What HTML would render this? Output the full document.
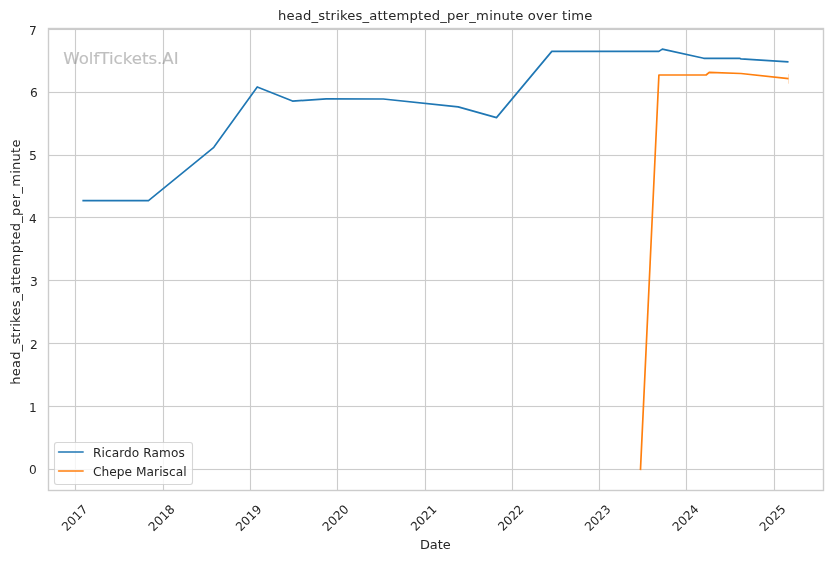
<!DOCTYPE html>
<html lang="en">
<head>
<meta charset="utf-8">
<title>head_strikes_attempted_per_minute over time</title>
<style>
html,body{margin:0;padding:0;background:#ffffff;}
body{width:832px;height:561px;overflow:hidden;}
svg{display:block;will-change:transform;}
text{font-family:'DejaVu Sans', 'Liberation Sans', sans-serif;fill:#262626;}
</style>
</head>
<body>
<svg width="832" height="561" viewBox="0 0 832 561">
<rect x="0" y="0" width="832" height="561" fill="#ffffff"/>
<g opacity="0.999">
<g stroke="#cccccc" stroke-width="1.111" fill="none">
<line x1="75.5" y1="28.5" x2="75.5" y2="490.5"/>
<line x1="163.5" y1="28.5" x2="163.5" y2="490.5"/>
<line x1="250.5" y1="28.5" x2="250.5" y2="490.5"/>
<line x1="337.5" y1="28.5" x2="337.5" y2="490.5"/>
<line x1="425.5" y1="28.5" x2="425.5" y2="490.5"/>
<line x1="512.5" y1="28.5" x2="512.5" y2="490.5"/>
<line x1="599.5" y1="28.5" x2="599.5" y2="490.5"/>
<line x1="686.5" y1="28.5" x2="686.5" y2="490.5"/>
<line x1="774.5" y1="28.5" x2="774.5" y2="490.5"/>
</g>
<g fill="#cccccc" stroke="none">
<rect x="48.5" y="468.9445" width="775.0" height="1.111"/>
<rect x="48.5" y="405.9445" width="775.0" height="1.111"/>
<rect x="48.5" y="342.9445" width="775.0" height="1.111"/>
<rect x="48.5" y="279.9445" width="775.0" height="1.111"/>
<rect x="48.5" y="216.9445" width="775.0" height="1.111"/>
<rect x="48.5" y="154.9445" width="775.0" height="1.111"/>
<rect x="48.5" y="91.9445" width="775.0" height="1.111"/>
<rect x="48.5" y="28.9445" width="775.0" height="1.111"/>
</g>
<g fill="none" stroke-width="1.667" stroke-linejoin="round" stroke-linecap="square">
<polyline stroke="#1f77b4" points="83.20,200.60 148.50,200.60 213.80,147.30 257.25,86.90 292.50,101.10 326.25,98.90 383.30,99.00 458.20,106.90 496.50,117.60 551.80,51.40 658.90,51.40 662.30,49.10 703.75,58.30 739.40,58.30 741.00,58.90 787.70,61.80"/>
<polyline stroke="#ff7f0e" points="640.50,469.33 658.90,75.00 706.10,75.00 709.20,72.30 741.00,73.50 787.70,78.60"/>
</g>
<line x1="788.5" y1="74.1" x2="788.5" y2="83.7" stroke="#ff7f0e" stroke-opacity="0.25" stroke-width="1"/>
<rect x="48.5" y="28.5" width="775.0" height="462.0" fill="none" stroke="#cccccc" stroke-width="1.389"/>
<text x="63.20" y="63.60" style="font-size:16.617px;fill:#808080;stroke:#808080;stroke-width:0.16;opacity:0.5">WolfTickets.AI</text>
<rect x="54.5" y="442.5" width="138" height="42" rx="2.4" ry="2.4" fill="#ffffff" fill-opacity="0.8" stroke="#cccccc" stroke-opacity="0.8" stroke-width="1.111"/>
<line x1="58.6" y1="452.0" x2="83.1" y2="452.0" stroke="#1f77b4" stroke-width="1.667" stroke-linecap="round"/>
<line x1="58.6" y1="471.0" x2="83.1" y2="471.0" stroke="#ff7f0e" stroke-width="1.667" stroke-linecap="round"/>
<text style="font-size:12.122px;fill:#262626" x="93.05 101.55 104.92 111.67 119.17 124.05 131.80 139.30 143.18 151.43 158.93 170.93 178.43" y="457.30">Ricardo Ramos</text>
<text style="font-size:12.222px;fill:#262626" x="93.10 101.60 109.35 116.85 124.60 132.10 135.97 146.60 154.10 159.22 162.60 169.10 175.85 183.35" y="476.30">Chepe Mariscal</text>
<text style="font-size:13.150px;fill:#262626" x="278.10 286.60 294.85 303.10 311.60 318.35 325.23 330.60 336.23 339.98 347.35 355.60 362.48 369.23 377.48 382.85 388.23 396.48 409.60 418.10 423.48 431.73 440.23 446.98 455.48 463.73 469.35 476.10 489.23 492.98 501.48 509.98 515.35 523.60 527.85 536.10 543.98 552.23 557.85 562.10 567.48 571.23 584.35" y="20.00">head_strikes_attempted_per_minute over time</text>
<text style="font-size:12.950px;fill:#262626" x="435.35" y="549.00" text-anchor="middle">Date</text>
<text style="font-size:13.000px;fill:#262626" transform="translate(19.50 262.10) rotate(-90)" x="-122.75 -114.25 -106.00 -97.75 -89.25 -82.50 -75.62 -70.25 -64.62 -60.88 -53.50 -45.25 -38.38 -31.62 -23.38 -18.00 -12.62 -4.38 8.75 17.25 22.62 30.88 39.38 46.12 54.62 62.88 68.50 75.25 88.38 92.12 100.62 109.12 114.50" y="0">head_strikes_attempted_per_minute</text>
<text style="font-size:12.172px;fill:#262626" x="36.70" y="474.30" text-anchor="end">0</text>
<text style="font-size:12.172px;fill:#262626" x="36.80" y="412.10" text-anchor="end">1</text>
<text style="font-size:12.272px;fill:#262626" x="37.90" y="349.10" text-anchor="end">2</text>
<text style="font-size:12.272px;fill:#262626" x="37.90" y="286.20" text-anchor="end">3</text>
<text style="font-size:12.172px;fill:#262626" x="36.80" y="223.00" text-anchor="end">4</text>
<text style="font-size:12.472px;fill:#262626" x="36.85" y="159.90" text-anchor="end">5</text>
<text style="font-size:12.222px;fill:#262626" x="37.80" y="97.30" text-anchor="end">6</text>
<text style="font-size:12.222px;fill:#262626" x="36.80" y="35.15" text-anchor="end">7</text>
<text style="font-size:12.122px;fill:#262626" transform="translate(66.63 531.84) rotate(-45)">2017</text>
<text style="font-size:12.222px;fill:#262626" transform="translate(153.61 532.02) rotate(-45)">2018</text>
<text style="font-size:12.022px;fill:#262626" transform="translate(240.71 531.83) rotate(-45)">2019</text>
<text style="font-size:12.222px;fill:#262626" transform="translate(327.60 532.06) rotate(-45)">2020</text>
<text style="font-size:11.972px;fill:#262626" transform="translate(415.74 531.53) rotate(-45)">2021</text>
<text style="font-size:11.972px;fill:#262626" transform="translate(502.97 531.55) rotate(-45)">2022</text>
<text style="font-size:12.122px;fill:#262626" transform="translate(589.63 531.87) rotate(-45)">2023</text>
<text style="font-size:12.222px;fill:#262626" transform="translate(677.44 531.88) rotate(-45)">2024</text>
<text style="font-size:12.122px;fill:#262626" transform="translate(764.62 531.91) rotate(-45)">2025</text>
</g>
</svg>
</body>
</html>
